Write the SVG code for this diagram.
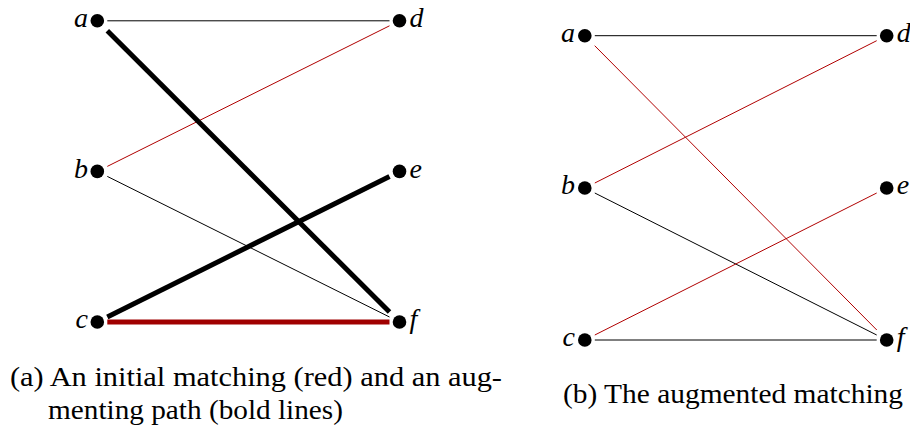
<svg xmlns="http://www.w3.org/2000/svg" width="910" height="427" viewBox="0 0 910 427">
<style>
.thin{stroke:#000;stroke-width:1;fill:none}
.red{stroke:#b00000;stroke-width:1;fill:none}
.thick{stroke:#000;stroke-width:5;fill:none}
.thickred{stroke:#a00000;stroke-width:5;fill:none}
.dot{fill:#000}
.lbl{font-family:"Liberation Serif",serif;font-style:italic;font-size:28px;fill:#000}
.cap{font-family:"Liberation Serif",serif;font-size:27.5px;fill:#000}
</style>
<rect width="910" height="427" fill="#fff"/>
<g id="connectors">
<line class="thin" x1="107.3" y1="20.8" x2="389.5" y2="20.8"/>
<line class="red" x1="107.3" y1="166.4" x2="389.5" y2="25.8"/>
<line class="thin" x1="107.3" y1="176.4" x2="389.5" y2="317"/>
<line class="thick" x1="107.3" y1="30.8" x2="389.5" y2="312"/>
<line class="thick" x1="107.3" y1="317" x2="389.5" y2="176.4"/>
<line class="thickred" x1="107.3" y1="322" x2="389.5" y2="322"/>
<line class="thin" x1="594.8" y1="35.7" x2="876.7" y2="35.7"/>
<line class="red" x1="594.7" y1="45.7" x2="876.8" y2="330"/>
<line class="red" x1="594.8" y1="183" x2="876.7" y2="40.7"/>
<line class="thin" x1="594.8" y1="193" x2="876.7" y2="335"/>
<line class="red" x1="594.8" y1="335" x2="876.7" y2="193"/>
<line class="thin" x1="594.8" y1="340" x2="876.7" y2="340"/>
</g>
<g id="L-a"><circle class="dot" cx="97.3" cy="20.8" r="6.8"/><text class="lbl" x="88" y="27" text-anchor="end">a</text></g>
<g id="L-b"><circle class="dot" cx="97.3" cy="171.4" r="6.8"/><text class="lbl" x="88" y="177.5" text-anchor="end">b</text></g>
<g id="L-c"><circle class="dot" cx="97.3" cy="322" r="6.8"/><text class="lbl" x="88" y="328" text-anchor="end">c</text></g>
<g id="L-d"><circle class="dot" cx="399.5" cy="20.8" r="6.8"/><text class="lbl" x="409.5" y="27">d</text></g>
<g id="L-e"><circle class="dot" cx="399.5" cy="171.4" r="6.8"/><text class="lbl" x="409.5" y="177.5">e</text></g>
<g id="L-f"><circle class="dot" cx="399.5" cy="322" r="6.8"/><text class="lbl" x="409.5" y="328">f</text></g>
<g id="R-a"><circle class="dot" cx="584.8" cy="35.7" r="6.8"/><text class="lbl" x="575" y="42" text-anchor="end">a</text></g>
<g id="R-b"><circle class="dot" cx="584.8" cy="188" r="6.8"/><text class="lbl" x="575" y="194" text-anchor="end">b</text></g>
<g id="R-c"><circle class="dot" cx="584.8" cy="340" r="6.8"/><text class="lbl" x="575" y="346" text-anchor="end">c</text></g>
<g id="R-d"><circle class="dot" cx="886.7" cy="35.7" r="6.8"/><text class="lbl" x="896.7" y="42">d</text></g>
<g id="R-e"><circle class="dot" cx="886.7" cy="188" r="6.8"/><text class="lbl" x="896.7" y="194">e</text></g>
<g id="R-f"><circle class="dot" cx="886.7" cy="340" r="6.8"/><text class="lbl" x="896.7" y="346">f</text></g>
<g id="caption-a">
<text class="cap" x="10" y="386" textLength="492" lengthAdjust="spacingAndGlyphs">(a) An initial matching (red) and an aug-</text>
<text class="cap" x="48" y="419" textLength="295" lengthAdjust="spacingAndGlyphs">menting path (bold lines)</text>
</g>
<g id="caption-b">
<text class="cap" x="563" y="403" textLength="340" lengthAdjust="spacingAndGlyphs">(b) The augmented matching</text>
</g>
</svg>
